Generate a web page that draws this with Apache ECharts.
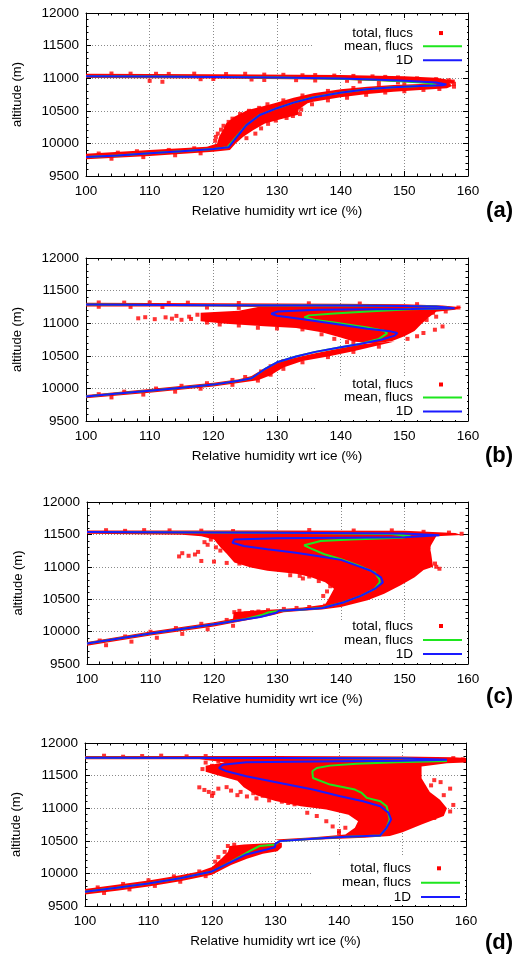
<!DOCTYPE html>
<html><head><meta charset="utf-8">
<script src="https://cdn.jsdelivr.net/npm/echarts@6/dist/echarts.min.js"></script>
<style>html,body{margin:0;padding:0;background:#fff}#c{width:516px;height:958px}</style>
</head><body><div id="c"></div>
<script>
// ---------- axes / labels ----------
const xTicks = [100, 110, 120, 130, 140, 150, 160];
const yTicks = [9500, 10000, 10500, 11000, 11500, 12000];
const xTitle = 'Relative humidity wrt ice (%)';
const yTitle = 'altitude (m)';
const panelLabels = ['(a)', '(b)', '(c)', '(d)'];
const seriesNames = ['total, flucs', 'mean, flucs', '1D'];

// ---------- panel (a) ----------
const a1D = [[100,9790],[105,9815],[110,9850],[115,9880],[120,9915],[122.4,9940],[123.7,10100],[125.2,10280],[127.3,10435],[130,10540],[132.6,10625],[135.7,10705],[139.9,10778],[144.1,10830],[148.3,10860],[152.5,10880],[156,10893],[156.6,10905],[155,10935],[150,10960],[145,10980],[140,10995],[130,11010],[120,11018],[110,11025],[100,11030]];
const aMean = [[100,9790],[105,9815],[110,9850],[115,9880],[120,9915],[122.2,9940],[123.6,10100],[125.2,10282],[127.3,10437],[130,10540],[132.6,10625],[135.7,10707],[139.9,10778],[144.1,10830],[148.3,10860],[152.5,10882],[155,10893],[155.3,10905],[154,10925],[150,10948],[145,10975],[140,10993],[130,11010],[120,11018],[110,11025],[100,11030]];
const aBand = [[100,9840],[110,9900],[119,9950],[120.6,10000],[120.9,10103],[121.5,10205],[122,10307],[123.3,10410],[125.4,10512],[127.5,10563],[129.6,10614],[132.6,10700],[135.7,10768],[140,10829],[144.2,10870],[148.3,10896],[152.5,10911],[157,10935],[157.5,10880],[156.7,10845],[152.5,10819],[148.3,10794],[144.2,10758],[140,10707],[135.7,10640],[134.8,10614],[133.4,10520],[133.3,10440],[131,10380],[128.1,10307],[126.3,10205],[124.7,10103],[123.5,10000],[122.6,9900],[120,9872],[110,9806],[100,9757]];
const aTop = [[100,11068],[120,11062],[140,11048],[150,11030],[155,11005],[158,10960],[157.5,10920],[154,10915],[150,10940],[140,10975],[120,10995],[100,11002]];
const aPts = [[104,11072],[107,11070],[111,11068],[113,11066],[117,11070],[122,11064],[125,11068],[128,11055],[131,11052],[134,11045],[136,11048],[139,11040],[142,11035],[145,11028],[147,11020],[149,11012],[152,10998],[155,10985],[157,10968],[110,10960],[112,10945],[118,10985],[120,10988],[126,10980],[128,10972],[133,10970],[136,10965],[141,10960],[143,10950],[146,10945],[149,10935],[120.3,10040],[120.4,10100],[120.7,10150],[121.2,10210],[121.6,10270],[122.4,10330],[123,10380],[124.2,10450],[125.6,10500],[127.2,10545],[125.2,10080],[126.6,10150],[127.5,10230],[128.6,10300],[129.8,10350],[131.5,10390],[132.5,10420],[133.6,10450],[133.8,10520],[135.5,10600],[138,10660],[141,10700],[144,10745],[147,10780],[150,10800],[153,10820],[155.5,10835],[157.8,10870],[157.8,10915],[157.6,10950],[128.5,10600],[131,10660],[134,10735],[138,10805],[142,10850],[146,10890],[150,10910],[154,10928],[102,9845],[105,9858],[108,9880],[113,9900],[117,9925],[121,9965],[104,9765],[109,9790],[114,9818],[118,9848]];

// ---------- panel (b) ----------
const b1D = [[100,9875],[105,9920],[110,9965],[115,10010],[120,10058],[124,10118],[126,10155],[128,10290],[130,10400],[133,10490],[136,10560],[140,10630],[143,10680],[146.5,10750],[148.5,10810],[148.9,10850],[147.8,10875],[144.2,10915],[139,10990],[133.8,11065],[130,11115],[129.1,11145],[130.1,11180],[136.4,11205],[145,11213],[151,11218],[157.9,11230],[155,11258],[150,11265],[140,11270],[120,11277],[100,11285]];
const bMean = [[100,9875],[105,9920],[110,9965],[115,10010],[120,10058],[124,10118],[126,10155],[128,10290],[130,10400],[133,10490],[136,10560],[140,10630],[143,10680],[146,10760],[147.3,10845],[146.8,10885],[144.2,10935],[139,11012],[136,11050],[134.3,11090],[135,11120],[139,11150],[144.2,11180],[150.9,11215],[157.5,11228],[155,11258],[150,11265],[140,11270],[120,11277],[100,11285]];
const bBand = [[100,9900],[110,9990],[120,10085],[124,10140],[126,10190],[127.5,10280],[129.5,10380],[132,10450],[136,10540],[140,10615],[143,10675],[145.5,10700],[148.5,10720],[146,10660],[142,10570],[138,10490],[134,10420],[131,10320],[129,10200],[127,10125],[120,10030],[110,9935],[100,9850]];
const bBulge = [[118,11160],[124,11190],[127,11250],[120,11257],[110,11258],[100,11258],[100,11312],[120,11306],[140,11298],[150,11292],[156,11272],[159,11245],[158,11205],[155,11175],[153.7,11080],[152.6,10980],[151.6,10880],[150,10800],[148,10725],[145,10690],[142,10720],[140,10780],[137,10860],[133,10925],[128,10955],[122,10990],[118,11030]];
const bPts = [[102,11318],[106,11316],[110,11318],[113,11312],[116,11315],[124,11310],[135,11305],[143,11302],[152,11292],[158.5,11240],[102,11252],[107,11250],[112,11248],[119,11240],[124,11235],[108.2,11075],[109.3,11092],[110.8,11062],[112.5,11090],[114.2,11112],[115,11052],[116.5,11065],[117.5,11130],[116.2,11100],[113.5,11070],[119,11010],[121,10980],[124,10965],[127,10930],[130,10920],[134,10905],[137,10830],[139,10760],[141,10710],[142,10700],[153.5,11050],[154.8,10900],[156,10950],[155,11100],[154.5,11160],[156.5,11180],[153,10850],[152,10800],[150.5,10760],[102,9912],[106,9950],[111,9998],[115,10040],[119,10080],[123,10130],[125,10175],[127.5,10260],[129,10340],[131,10420],[104,9862],[109,9905],[114,9950],[118,9995],[123,10055],[127,10120],[129,10210],[131,10300],[134,10400],[138,10480],[142,10560],[146,10640]];

// ---------- panel (c) ----------
const c1D = [[100,9815],[110,9970],[120,10113],[125,10190],[127.3,10226],[129.8,10290],[130.2,10320],[134,10340],[137.1,10365],[140.5,10454],[143.2,10556],[145.3,10658],[146.6,10760],[146.3,10837],[144.7,10939],[142.6,11015],[140,11107],[136.3,11168],[132.6,11219],[128.4,11270],[124.7,11321],[122.9,11372],[123.2,11423],[130,11440],[140,11448],[150,11455],[155.5,11485],[150,11515],[130,11525],[100,11537]];
const cMean = [[100,9815],[110,9970],[120,10113],[125,10195],[127.5,10255],[128.5,10295],[130.2,10320],[134,10340],[137.1,10368],[140.5,10454],[143.2,10556],[145.3,10658],[146.1,10760],[146.05,10811],[145.3,10913],[142.6,11025],[140,11117],[137.4,11194],[135.3,11280],[134.2,11332],[136.8,11398],[141.6,11423],[149.5,11449],[151,11470],[148,11505],[130,11525],[100,11537]];
const cBand = [[100,9840],[110,10000],[120,10145],[123,10200],[123.1,10300],[126,10320],[130,10345],[131,10300],[129,10250],[127,10210],[120,10080],[110,9940],[100,9780]];
const cBulge = [[100,11560],[130,11562],[150,11555],[158,11520],[159,11490],[155,11470],[154,11300],[154.2,11200],[154.5,11000],[153,10950],[151.6,10840],[149.4,10714],[146.8,10586],[144.2,10483],[140,10380],[137,10340],[134,10320],[131,10300],[130,10345],[134,10370],[137.5,10420],[138,10500],[138.9,10660],[137.5,10760],[135.3,10837],[133.2,10888],[128.4,10939],[125.8,10990],[123.2,11066],[122,11200],[121,11300],[120,11420],[118,11470],[115,11495],[100,11510]];
const cPts = [[103,11565],[106,11555],[109,11566],[113,11562],[118,11558],[123,11552],[135,11567],[142,11560],[148,11562],[153,11540],[157,11528],[159,11510],[115,11210],[116,11170],[117.5,11230],[118.5,11380],[119.5,11420],[120.3,11300],[121,11250],[119,11340],[114.5,11160],[117,11190],[118,11090],[120,11080],[122,11060],[124,11050],[126,11030],[128,11010],[130,10990],[132,10980],[134,10965],[132,10870],[133.5,10860],[135,10850],[136.5,10840],[138,10830],[155,11000],[154.8,11050],[155.5,10970],[153.8,11300],[152,11380],[150,11300],[148.5,11350],[123.2,10300],[124,10320],[125,10280],[126,10300],[127,10310],[128.5,10330],[131,10350],[133,10365],[135,10380],[137.5,10400],[102,9862],[106,9925],[110,9998],[114,10055],[118,10120],[122,10180],[103,9790],[107,9845],[111,9905],[115,9965],[119,10035],[123,10090],[137.2,10550],[137.8,10620],[138.3,10700],[136.5,10780],[134,10820]];

// ---------- panel (d) ----------
const d1D = [[100,9718],[105,9780],[110,9845],[115,9925],[120,10030],[122.8,10164],[125.4,10291],[128.6,10368],[129.9,10400],[130,10455],[130.7,10495],[135.9,10531],[141.2,10561],[146.5,10582],[147.5,10700],[148.2,10827],[147.8,10929],[146.5,11031],[143.8,11107],[140.2,11184],[135.9,11286],[130.7,11388],[125.4,11490],[122.3,11566],[121.1,11617],[121.7,11668],[125.4,11704],[140,11720],[150,11728],[157,11745],[150,11765],[130,11770],[100,11775]];
const dMean = [[100,9718],[105,9780],[110,9845],[115,9925],[120,10030],[122.8,10170],[124.5,10260],[125.9,10342],[127.5,10420],[130,10445],[130.7,10495],[135.9,10531],[141.2,10561],[146.5,10582],[147.5,10700],[148,10827],[147.5,11031],[146.5,11107],[144.4,11158],[143.5,11240],[142.5,11286],[138.6,11362],[135.9,11464],[135.8,11566],[136.5,11617],[138.6,11653],[142.8,11683],[149.1,11704],[157,11725],[150,11765],[130,11770],[100,11775]];
const dBand = [[100,9760],[105,9825],[110,9890],[115,9970],[118,10030],[120,10100],[121.5,10230],[122.5,10330],[122.8,10419],[125,10445],[128,10460],[131,10470],[131,10400],[130.3,10340],[128,10300],[125.5,10225],[123,10130],[120,9980],[115,9880],[110,9800],[105,9735],[100,9675]];
const dBulge = [[100,11800],[130,11800],[150,11792],[158,11782],[160,11770],[160,11700],[157,11690],[153,11640],[153,11460],[154.3,11250],[155.9,11130],[157,11000],[156.5,10880],[153,10750],[150,10630],[148,10575],[144,10545],[138,10525],[131,10490],[130,10520],[136,10555],[141,10595],[142.5,10700],[143,10800],[141.5,10900],[138,10980],[134,11030],[130,11110],[127,11200],[125,11320],[124,11420],[121,11500],[119,11560],[119,11650],[122,11705],[118,11750],[100,11752]];
const dPts = [[103,11805],[106,11790],[109,11800],[112,11806],[116,11795],[119,11800],[121,11770],[158,11768],[159.5,11750],[118.8,11280],[119.5,11250],[120.2,11231],[121,11300],[122.3,11323],[123,11270],[124,11200],[124.5,11250],[125.5,11180],[126.5,11230],[127,11150],[128,11190],[129,11120],[130,11160],[131,11100],[132,11080],[133,11060],[118,11320],[120,11190],[119,11700],[120,11650],[121,11720],[118.5,11600],[156,11400],[155,11430],[154.5,11350],[157.5,11300],[156.5,11200],[158,11050],[157.5,10950],[155,10850],[140,10650],[139,10720],[138,10800],[136.5,10880],[135,10930],[140,10620],[141,10700],[122.5,10420],[123,10380],[123.5,10440],[122,10330],[121,10250],[120.5,10180],[102,9785],[106,9838],[110,9895],[114,9955],[118,10030],[103,9700],[107,9755],[111,9808],[115,9872],[119,9958]];

// ---------- layout ----------
const FONT = 'Liberation Sans, Arial, Helvetica, sans-serif';
const panels = [
  { grid:{left:86, top:13, width:382, height:163}, one:a1D, mean:aMean, clouds:[aBand, aTop], pts:aPts, rows:[32.7,46,59.3], box:[313,22,154,46], labelY:212 },
  { grid:{left:86, top:258, width:382, height:163}, one:b1D, mean:bMean, clouds:[bBand, bBulge], pts:bPts, rows:[384,397,410], box:[315,377,152,43], labelY:457 },
  { grid:{left:87, top:502, width:381, height:162}, one:c1D, mean:cMean, clouds:[cBand, cBulge], pts:cPts, rows:[626,640,653.3], box:[315,620,152,43], labelY:698 },
  { grid:{left:85, top:743, width:381, height:163}, one:d1D, mean:dMean, clouds:[dBand, dBulge], pts:dPts, rows:[868.3,882.7,896.7], box:[313,856,152,49], labelY:944 }
];

const grids = [], xAxes = [], yAxes = [], series = [], legends = [], graphics = [];
const axisLine = {show:true, onZero:false, lineStyle:{color:'#000', width:1}};
const tick = {show:true, inside:true, length:5, lineStyle:{color:'#000', width:1}};
const minor = {show:true, splitNumber:5, length:2.5, lineStyle:{color:'#000', width:1}};
const split = {show:true, showMinLine:false, showMaxLine:false, lineStyle:{color:'#8a8a8a', width:1, type:[1,2]}};
const xMin = xTicks[0], xMax = xTicks[xTicks.length-1], xInt = xTicks[1]-xTicks[0];
const yMin = yTicks[0], yMax = yTicks[yTicks.length-1], yInt = yTicks[1]-yTicks[0];
const plain = v => String(v);

panels.forEach((p, i) => {
  grids.push(Object.assign({containLabel:false}, p.grid));
  xAxes.push({gridIndex:i, type:'value', min:xMin, max:xMax, interval:xInt, position:'bottom',
    name:xTitle, nameLocation:'middle', nameGap:28, nameTextStyle:{fontSize:13.5, color:'#000', fontFamily:FONT},
    axisLine, axisTick:tick, minorTick:minor, splitLine:split,
    axisLabel:{fontSize:13.5, color:'#000', margin:8, fontFamily:FONT, formatter:plain}});
  xAxes.push({gridIndex:i, type:'value', min:xMin, max:xMax, interval:xInt, position:'top',
    axisLine, axisTick:tick, minorTick:minor, splitLine:{show:false}, axisLabel:{show:false}});
  yAxes.push({gridIndex:i, type:'value', min:yMin, max:yMax, interval:yInt, position:'left',
    name:yTitle, nameLocation:'middle', nameGap:62, nameRotate:90, nameTextStyle:{fontSize:13, color:'#000', fontFamily:FONT},
    axisLine, axisTick:tick, minorTick:minor, splitLine:split,
    axisLabel:{fontSize:13.5, color:'#000', margin:7, fontFamily:FONT, formatter:plain}});
  yAxes.push({gridIndex:i, type:'value', min:yMin, max:yMax, interval:yInt, position:'right',
    axisLine, axisTick:tick, minorTick:minor, splitLine:{show:false}, axisLabel:{show:false}});

  p.clouds.forEach(poly => {
    series.push({type:'custom', name:seriesNames[0], xAxisIndex:2*i, yAxisIndex:2*i, z:2, silent:true,
      itemStyle:{color:'#ff0000'}, data:poly, clip:true,
      renderItem:(params, api) => params.dataIndex !== 0 ? null : {
        type:'polygon', shape:{points: poly.map(v => api.coord(v))}, style:{fill:'#ff0000'}
      }});
  });
  series.push({type:'scatter', name:seriesNames[0], xAxisIndex:2*i, yAxisIndex:2*i, z:2, silent:true,
    symbol:'rect', symbolSize:4, itemStyle:{color:'#ff0000'}, data:p.pts});
  series.push({type:'line', name:seriesNames[1], xAxisIndex:2*i, yAxisIndex:2*i, z:3, silent:true,
    symbol:'none', showSymbol:false, lineStyle:{color:'#1ee61e', width:2}, itemStyle:{color:'#1ee61e'}, data:p.mean});
  series.push({type:'line', name:seriesNames[2], xAxisIndex:2*i, yAxisIndex:2*i, z:4, silent:true,
    symbol:'none', showSymbol:false, lineStyle:{color:'#1a1aff', width:2}, itemStyle:{color:'#1a1aff'}, data:p.one});

  const gRight = p.grid.left + p.grid.width;
  const iconR = gRight - 6;
  const rowH = p.rows[1] - p.rows[0];
  legends.push({orient:'vertical', align:'right', padding:0, selectedMode:false,
    right: 516 - (iconR - 19), top: p.rows[0] - rowH/2, itemWidth:4, itemHeight:4, itemGap:0,
    data:[{name:seriesNames[0], icon:'rect', itemStyle:{color:'#ff0000'}}],
    textStyle:{fontSize:13.5, color:'#000', fontFamily:FONT, lineHeight:rowH, padding:[0,21,0,0]}});
  legends.push({orient:'vertical', align:'right', padding:0, selectedMode:false,
    right: 516 - iconR, top: p.rows[1] - rowH/2, itemWidth:39, itemHeight:2, itemGap:0,
    data:[{name:seriesNames[1], icon:'rect', itemStyle:{color:'#1ee61e'}}, {name:seriesNames[2], icon:'rect', itemStyle:{color:'#1a1aff'}}],
    textStyle:{fontSize:13.5, color:'#000', fontFamily:FONT, lineHeight:rowH, padding:[0,5,0,0]}});

  graphics.push({type:'rect', z:1, silent:true, shape:{x:p.box[0], y:p.box[1], width:p.box[2], height:p.box[3]}, style:{fill:'#fff'}});
  graphics.push({type:'text', right:3, top:p.labelY - 12, z:10, style:{text:panelLabels[i], font:'bold 22px ' + FONT, fill:'#000'}});
});

const chart = echarts.init(document.getElementById('c'), null, {renderer:'canvas', width:516, height:958});
chart.setOption({
  animation:false, backgroundColor:'#fff',
  textStyle:{fontFamily:FONT},
  grid:grids, xAxis:xAxes, yAxis:yAxes, legend:legends, series, graphic:graphics
});
</script></body></html>
